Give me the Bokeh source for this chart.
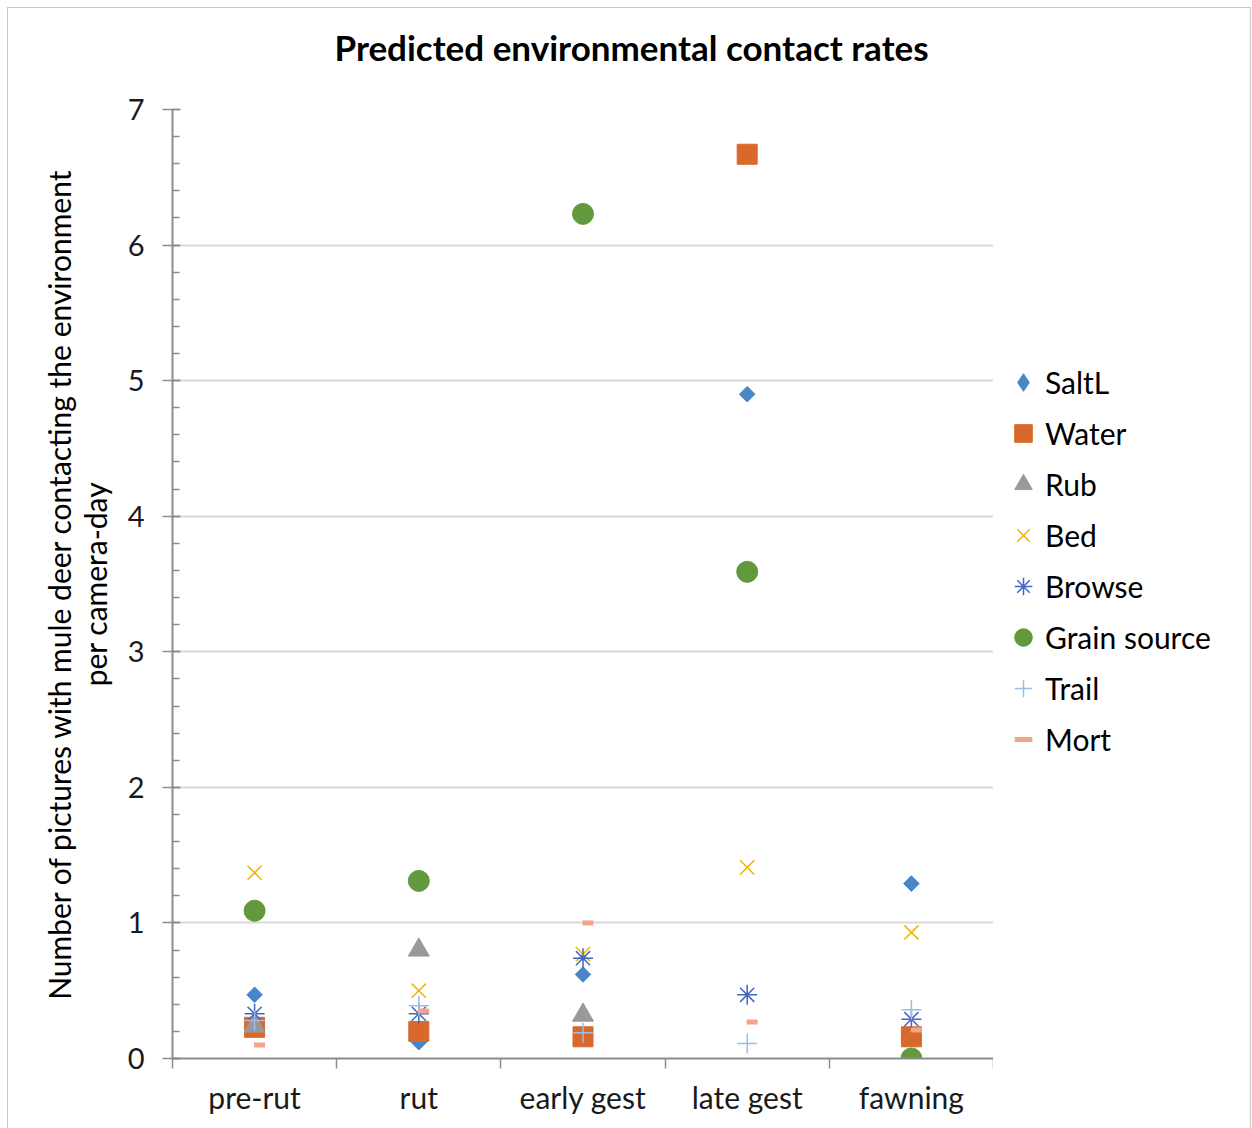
import numpy as np
from bokeh.plotting import figure
from bokeh.layouts import row
from bokeh.models import (ColumnDataSource, Range1d, FixedTicker, SingleIntervalTicker,
                          Legend, LegendItem, Title)
from bokeh.transform import dodge
from bokeh.embed import file_html
from bokeh.resources import INLINE

nan = float("nan")
categories = ["pre-rut", "rut", "early gest", "late gest", "fawning"]
series_names = ["SaltL", "Water", "Rub", "Bed", "Browse", "Grain source", "Trail", "Mort"]
saltl = [0.47, 0.12, 0.62, 4.90, 1.29]
water = [0.23, 0.20, 0.16, 6.67, 0.16]
rub = [0.24, 0.80, 0.32, nan, nan]
bed = [1.37, 0.50, 0.77, 1.41, 0.93]
browse = [0.33, 0.33, 0.74, 0.47, 0.29]
grain = [1.09, 1.31, 6.23, 3.59, 0.0]
trail = [0.28, 0.39, 0.19, 0.11, 0.36]
mort = [0.10, 0.35, 1.00, 0.27, 0.21]

FONT = "Lato"
pos = [i + 0.5 for i in range(len(categories))]

styles_list = [
    dict(marker="square", angle=np.pi / 4, size=11, fill_color="#4A86C5", line_color="#4A86C5"),
    dict(marker="square", size=20, fill_color="#D8692B", line_color="#D8692B"),
    dict(marker="triangle", size=21, fill_color="#999999", line_color="#999999"),
    dict(marker="x", size=20, line_color="#F2B200", line_width=1.5),
    dict(marker="asterisk", size=20, line_color="#4068C0", line_width=1.5),
    dict(marker="circle", size=21, fill_color="#62993C", line_color="#62993C"),
    dict(marker="cross", size=20, line_color="#9DBEE6", line_width=1.5),
    dict(marker="dash", size=11, line_color="#F3A58A", line_width=5),
]
legend_styles = [dict(s) for s in styles_list]
legend_styles[0] = dict(marker="diamond", size=16, fill_color="#4A86C5", line_color="#4A86C5")

p = figure(width=985, height=1125, output_backend="svg", toolbar_location=None,
           title=None,
           x_range=Range1d(0, len(categories)), y_range=Range1d(0, 7),
           min_border_left=164, min_border_right=0, min_border_top=101,
           min_border_bottom=75)
p.outline_line_color = None
p.background_fill_color = "white"
p.border_fill_color = "white"

# spacer (closest to the frame) then the real title above it
p.add_layout(Title(text=" ", text_font_size="2px", standoff=38, text_color="white"), "above")
p.add_layout(Title(text="Predicted environmental contact rates", align="left", offset=162,
                   text_font=FONT, text_font_size="35px", text_font_style="bold",
                   text_color="#000000", standoff=0), "above")

# axes
xa = p.xaxis[0]
xa.ticker = FixedTicker(ticks=pos, minor_ticks=list(range(len(categories) + 1)))
xa.major_label_overrides = {pv: c for pv, c in zip(pos, categories)}
xa.major_tick_line_color = None
xa.minor_tick_line_color = "#8c8c8c"
xa.minor_tick_out = 10
xa.minor_tick_in = 0
xa.minor_tick_line_width = 1.5
xa.axis_line_color = "#8c8c8c"
xa.axis_line_width = 2
xa.major_label_text_font = FONT
xa.major_label_text_font_size = "30px"
xa.major_label_text_color = "#1a1a1a"
xa.major_label_standoff = 10

ya = p.yaxis[0]
ya.ticker = SingleIntervalTicker(interval=1, num_minor_ticks=5)
ya.axis_line_color = "#8c8c8c"
ya.axis_line_width = 2
ya.major_tick_line_color = "#8c8c8c"
ya.major_tick_out = 10
ya.major_tick_in = 8
ya.major_tick_line_width = 1.5
ya.minor_tick_line_color = "#8c8c8c"
ya.minor_tick_out = 0
ya.minor_tick_in = 7
ya.minor_tick_line_width = 1.5
ya.major_label_text_font = FONT
ya.major_label_text_font_size = "29px"
ya.major_label_text_color = "#1a1a1a"
ya.major_label_standoff = 18
ya.axis_label = "Number of pictures with mule deer contacting the environment\nper camera-day"
ya.axis_label_text_font = FONT
ya.axis_label_text_font_size = "30px"
ya.axis_label_text_font_style = "normal"
ya.axis_label_text_color = "#000000"
ya.axis_label_text_line_height = 1.0
ya.axis_label_standoff = 12

p.xgrid.grid_line_color = None
p.ygrid.grid_line_color = "#d9d9d9"
p.ygrid.grid_line_width = 2

src = ColumnDataSource(dict(x=pos, SaltL=saltl, Water=water, Rub=rub, Bed=bed,
                            Browse=browse, Grain=grain, Trail=trail, Mort=mort))
cols = ["SaltL", "Water", "Rub", "Bed", "Browse", "Grain", "Trail", "Mort"]
for col, st in zip(cols, styles_list):
    xspec = dodge("x", 0.03, range=p.x_range) if col == "Mort" else "x"
    p.scatter(xspec, col, source=src, **st)

# legend panel (separate figure so it is not clipped by the plot frame)
lf = figure(width=257, height=1125, output_backend="svg", toolbar_location=None,
            x_range=Range1d(0, 1), y_range=Range1d(0, 1),
            min_border_left=0, min_border_right=0, min_border_top=0, min_border_bottom=0)
lf.axis.visible = False
lf.grid.grid_line_color = None
lf.outline_line_color = None
lf.background_fill_color = "white"
lf.border_fill_color = "white"
lsrc = ColumnDataSource(dict(x=[nan], y=[nan]))
leg_r = [lf.scatter("x", "y", source=lsrc, **st) for st in legend_styles]
legend = Legend(items=[LegendItem(label=n, renderers=[r]) for n, r in zip(series_names, leg_r)],
                location=(8, 295))
legend.label_text_font = FONT
legend.label_text_font_size = "30px"
legend.label_text_color = "#000000"
legend.glyph_width = 44
legend.glyph_height = 48
legend.label_height = 48
legend.spacing = 3
legend.label_standoff = 0
legend.padding = 0
legend.margin = 0
legend.border_line_color = None
legend.background_fill_alpha = 0
lf.add_layout(legend, "center")

layout = row(p, lf, spacing=0,
             styles={"margin-left": "7px", "margin-top": "7px",
                     "border": "1px solid #c8c8c8", "background": "white"})

open("out.html", "w").write(file_html(layout, INLINE))
